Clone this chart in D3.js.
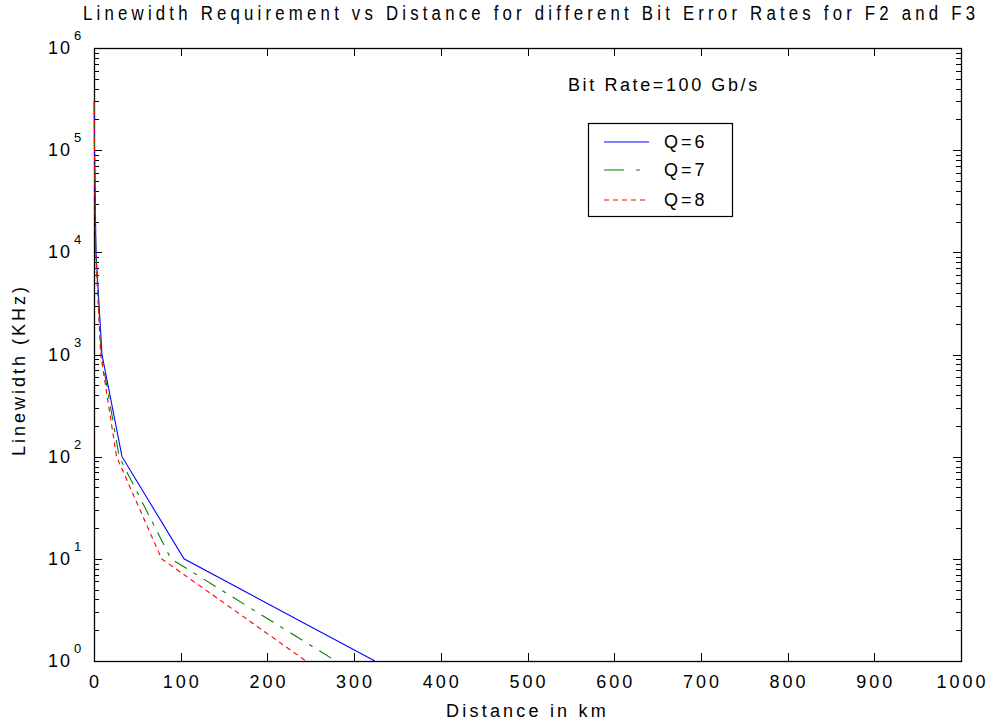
<!DOCTYPE html>
<html>
<head>
<meta charset="utf-8">
<script src="https://cdn.jsdelivr.net/npm/d3@7"></script>
<style>
  html, body { margin: 0; padding: 0; background: #fff; }
  svg text { font-family: "Liberation Sans", Arial, Helvetica, sans-serif; fill: #000; }
</style>
</head>
<body>
<svg id="chart" width="991" height="725"></svg>
<script>
// Linewidth levels (KHz) at which each distance was computed
const linewidths = [3e5, 1e5, 1e4, 1e3, 100, 10, 1];

// Maximum distance (km) for each Q factor
const distQ6 = [0.35, 0.6, 2.3, 9.2, 32.3, 103.8, 324];
const distQ7 = [0.3, 0.55, 2.1, 8.5, 29, 88.8, 279];
const distQ8 = [0.25, 0.5, 1.9, 7.7, 26, 78, 244.5];

const seriesNames = ["Q=6", "Q=7", "Q=8"];
const xTicks = [0, 100, 200, 300, 400, 500, 600, 700, 800, 900, 1000];
const yExponents = [0, 1, 2, 3, 4, 5, 6];

const titleText = "Linewidth Requirement vs Distance for different Bit Error Rates for F2 and F3";
const xLabel = "Distance in km";
const yLabel = "Linewidth (KHz)";
const noteText = "Bit Rate=100 Gb/s";

const svg = d3.select("#chart");
const m = { left: 94, right: 961, top: 48, bottom: 661 };

const x = d3.scaleLinear().domain([0, 1000]).range([m.left, m.right]);
const y = d3.scaleLog().domain([1, 1e6]).range([m.bottom, m.top]);

const series = [
  { name: seriesNames[0], dist: distQ6, color: "#0000ff", dash: null },
  { name: seriesNames[1], dist: distQ7, color: "#008000", dash: "14,8,4,8" },
  { name: seriesNames[2], dist: distQ8, color: "#ff0000", dash: "5,4" }
];

// ticks for the box axes (drawn inward on all four sides)
const ax = svg.append("g").attr("stroke", "#000").attr("stroke-width", 1);
const majorLen = 8, minorLen = 5;

xTicks.forEach(t => {
  const px = Math.round(x(t)) + 0.5;
  ax.append("line").attr("x1", px).attr("x2", px).attr("y1", m.bottom).attr("y2", m.bottom - majorLen);
  ax.append("line").attr("x1", px).attr("x2", px).attr("y1", m.top).attr("y2", m.top + majorLen);
});

yExponents.forEach(e => {
  const py = Math.round(y(Math.pow(10, e))) + 0.5;
  ax.append("line").attr("x1", m.left).attr("x2", m.left + majorLen).attr("y1", py).attr("y2", py);
  ax.append("line").attr("x1", m.right).attr("x2", m.right - majorLen).attr("y1", py).attr("y2", py);
  if (e < 6) {
    for (let k = 2; k <= 9; k++) {
      const my = Math.round(y(k * Math.pow(10, e))) + 0.5;
      ax.append("line").attr("x1", m.left).attr("x2", m.left + minorLen).attr("y1", my).attr("y2", my);
      ax.append("line").attr("x1", m.right).attr("x2", m.right - minorLen).attr("y1", my).attr("y2", my);
    }
  }
});

// box frame
svg.append("rect")
  .attr("x", m.left + 0.5).attr("y", m.top + 0.5)
  .attr("width", m.right - m.left).attr("height", m.bottom - m.top)
  .attr("fill", "none").attr("stroke", "#000").attr("stroke-width", 1.3);

// data lines, drawn over the frame so the steep part stays visible
svg.append("defs").append("clipPath").attr("id", "plotclip")
  .append("rect")
  .attr("x", m.left - 1).attr("y", m.top)
  .attr("width", m.right - m.left + 1).attr("height", m.bottom - m.top);

const line = d3.line()
  .x(d => x(d[0]))
  .y(d => y(d[1]));

const lines = svg.append("g").attr("clip-path", "url(#plotclip)");
series.forEach(s => {
  const pts = s.dist.map((d, i) => [d, linewidths[i]]);
  lines.append("path")
    .datum(pts)
    .attr("d", line)
    .attr("fill", "none")
    .attr("stroke", s.color)
    .attr("stroke-width", 1.1)
    .attr("stroke-dasharray", s.dash);
});

// x tick labels
svg.append("g").selectAll("text")
  .data(xTicks).join("text")
  .attr("x", d => x(d) + 1.5)
  .attr("y", 688)
  .attr("text-anchor", "middle")
  .attr("font-size", 18)
  .attr("letter-spacing", 3)
  .text(d => d);

// y tick labels as 10 with superscript exponent
const yl = svg.append("g");
yExponents.forEach(e => {
  const py = y(Math.pow(10, e));
  yl.append("text")
    .attr("x", 72)
    .attr("y", py + 6)
    .attr("text-anchor", "end")
    .attr("font-size", 18)
    .attr("letter-spacing", 2)
    .text("10");
  yl.append("text")
    .attr("x", 74)
    .attr("y", py - 8)
    .attr("font-size", 13)
    .text(e);
});

// axis titles
svg.append("text")
  .attr("x", (m.left + m.right) / 2)
  .attr("y", 717)
  .attr("text-anchor", "middle")
  .attr("font-size", 18)
  .attr("letter-spacing", 3.2)
  .text(xLabel);

svg.append("text")
  .attr("transform", "translate(25, 370) rotate(-90)")
  .attr("text-anchor", "middle")
  .attr("font-size", 18)
  .attr("letter-spacing", 3)
  .text(yLabel);

// chart title, horizontally condensed
const titleScale = 0.8;
svg.append("text")
  .attr("transform", `translate(83, 20) scale(${titleScale}, 1)`)
  .attr("font-size", 21)
  .attr("textLength", 892 / titleScale)
  .attr("lengthAdjust", "spacing")
  .text(titleText);

// annotation
svg.append("text")
  .attr("x", 568)
  .attr("y", 91)
  .attr("font-size", 18)
  .attr("letter-spacing", 2.6)
  .text(noteText);

// legend
const lg = svg.append("g");
lg.append("rect")
  .attr("x", 588.5).attr("y", 123.5)
  .attr("width", 144).attr("height", 93)
  .attr("fill", "#fff").attr("stroke", "#000").attr("stroke-width", 1.2);

const legendRows = [142, 170, 200];
series.forEach((s, i) => {
  lg.append("line")
    .attr("x1", 604).attr("x2", 649)
    .attr("y1", legendRows[i]).attr("y2", legendRows[i])
    .attr("stroke", s.color).attr("stroke-width", 1)
    .attr("stroke-dasharray", i === 1 ? "20,12,4,12" : s.dash);
  lg.append("text")
    .attr("x", 664).attr("y", legendRows[i] + 6)
    .attr("font-size", 18)
    .attr("letter-spacing", 3)
    .text(s.name);
});
</script>
</body>
</html>
